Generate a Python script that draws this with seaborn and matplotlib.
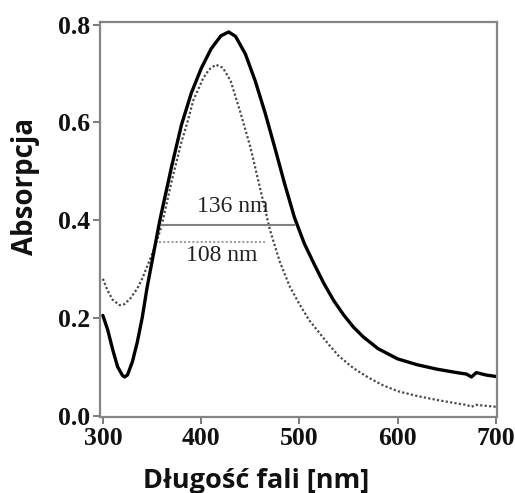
import matplotlib
matplotlib.use("Agg")
import matplotlib.pyplot as plt
import seaborn as sns
import pandas as pd

# --- data ---
wl_solid = [300, 305, 310, 315, 320, 322, 325, 330, 335, 340, 345, 350, 358, 370,
            380, 390, 400, 410, 420, 428, 435, 445, 455, 465, 475, 485, 495,
            505, 515, 525, 535, 545, 555, 565, 580, 600, 620, 640, 660, 670, 675,
            680, 690, 700]
abs_solid = [0.205, 0.175, 0.135, 0.100, 0.082, 0.079, 0.083, 0.110, 0.150, 0.200,
             0.262, 0.315, 0.400, 0.510, 0.595, 0.660, 0.710, 0.750, 0.777,
             0.785, 0.776, 0.740, 0.685, 0.620, 0.548, 0.474, 0.405, 0.352, 0.310,
             0.270, 0.235, 0.206, 0.181, 0.161, 0.137, 0.116, 0.104, 0.095, 0.088,
             0.085, 0.079, 0.088, 0.083, 0.080]

wl_dot = [300, 305, 310, 317, 322, 328, 335, 340, 345, 350, 355, 360, 370, 380,
          386, 392, 402, 408, 415, 422, 430, 440, 450, 460, 470, 480, 490, 500, 510,
          520, 530, 540, 555, 570, 585, 600, 620, 640, 660, 670, 675, 680, 690, 700]
abs_dot = [0.280, 0.255, 0.237, 0.226, 0.228, 0.240, 0.260, 0.280, 0.305, 0.330,
           0.358, 0.390, 0.480, 0.560, 0.600, 0.645, 0.690, 0.708, 0.718, 0.712,
           0.685, 0.620, 0.550, 0.465, 0.380, 0.315, 0.265, 0.228, 0.195, 0.170,
           0.145, 0.122, 0.097, 0.078, 0.062, 0.050, 0.040, 0.032, 0.025, 0.022,
           0.018, 0.022, 0.020, 0.018]

fwhm_labels = ["136 nm", "108 nm"]
fwhm_y = [0.390, 0.355]
fwhm_x0 = [359, 357]
fwhm_x1 = [495, 465]
label_pos = [(432, 0.428), (421, 0.328)]

x_ticks = [300, 400, 500, 600, 700]
y_ticks = [0.0, 0.2, 0.4, 0.6, 0.8]
y_tick_labels = ["0.0", "0.2", "0.4", "0.6", "0.8"]

df_solid = pd.DataFrame({"wl": wl_solid, "A": abs_solid})
df_dot = pd.DataFrame({"wl": wl_dot, "A": abs_dot})

sns.set_style("white")
fig = plt.figure(figsize=(5.15, 4.93), dpi=100)
ax = fig.add_axes([0.194, 0.154, 0.771, 0.801])

sns.lineplot(data=df_dot, x="wl", y="A", ax=ax, color="#4a4a4a", linewidth=1.6,
             linestyle=(0, (1, 1)))
sns.lineplot(data=df_solid, x="wl", y="A", ax=ax, color="black", linewidth=2.4)

# FWHM markers
ax.hlines(fwhm_y[0], fwhm_x0[0], fwhm_x1[0], color="#808080", linewidth=1.5)
ax.hlines(fwhm_y[1], fwhm_x0[1], fwhm_x1[1], color="#a0a0a0", linewidth=1.5,
          linestyles=(0, (1, 1)))
for lab, (lx, ly) in zip(fwhm_labels, label_pos):
    ax.text(lx, ly, lab, ha="center", va="center", fontsize=17,
            family="Liberation Serif", color="#222222")

ax.set_xlim(297, 701)
ax.set_ylim(-0.003, 0.805)
ax.set_xticks(x_ticks)
ax.set_yticks(y_ticks)
ax.set_yticklabels(y_tick_labels)
for lbl in ax.get_xticklabels() + ax.get_yticklabels():
    lbl.set_family("Liberation Serif")
    lbl.set_fontweight("bold")
    lbl.set_fontsize(18.5)
    lbl.set_color("#111111")

ax.tick_params(axis="both", direction="out", length=5, width=1.3, color="#707070",
               pad=2, bottom=True, left=True)
for sp in ax.spines.values():
    sp.set_color("#858585")
    sp.set_linewidth(1.6)

ax.set_xlabel("Długość fali [nm]", fontsize=19.5, fontweight="bold",
              family="Open Sans", color="#111111")
ax.set_ylabel("Absorpcja", fontsize=20, fontweight="bold",
              family="Open Sans", color="#111111")
ax.xaxis.set_label_coords(0.393, -0.128)
ax.yaxis.set_label_coords(-0.152, 0.585)

fig.savefig("out.png", dpi=100)
